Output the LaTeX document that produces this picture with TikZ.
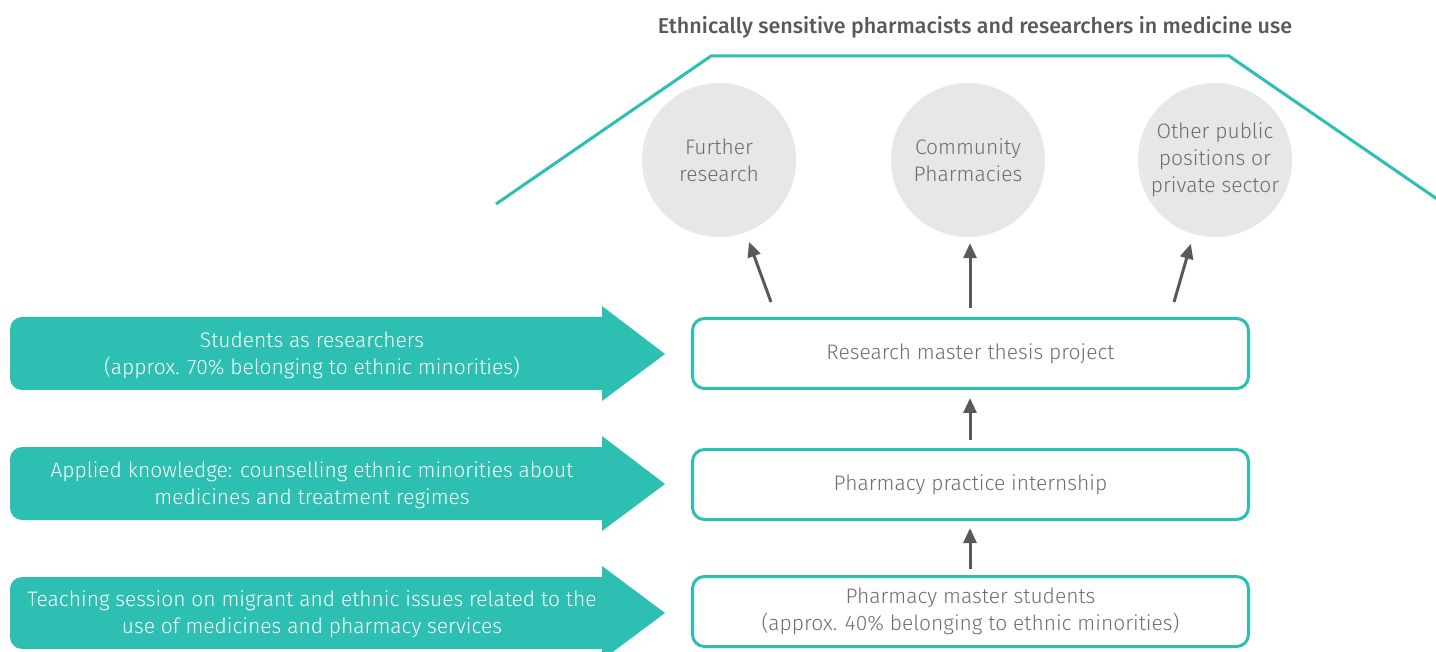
\documentclass[tikz,border=0pt]{standalone}
\usepackage{fontspec}
\setmainfont{Fira Sans Light}[BoldFont={Fira Sans Medium}]
\usetikzlibrary{arrows.meta}
\definecolor{tealc}{HTML}{2CBFB2}
\definecolor{circg}{HTML}{E6E7E8}
\definecolor{darkg}{HTML}{58595B}
\definecolor{textg}{HTML}{6D6E71}
\begin{document}
\begin{tikzpicture}[x=1pt,y=-1pt,
  box/.style={draw=tealc, line width=3pt, rounded corners=12pt, minimum width=556pt, minimum height=70pt, text=textg, font=\fontsize{21}{27}\selectfont, align=center},
  circ/.style={circle, fill=circg, minimum size=154pt, text=textg, font=\fontsize{21}{27}\selectfont, align=center, inner sep=0pt},
  arr/.style={draw=darkg, line width=3pt, -{Triangle[length=15pt,width=13pt]}},
  wtext/.style={text=white, font=\fontsize{21}{27}\selectfont, align=center},
  bigarrow/.style={fill=tealc},
  titletext/.style={text=darkg, font=\fontsize{21.5}{24}\selectfont\bfseries}
]
\useasboundingbox (0,0) rectangle (1436,652);
% title and trapezoid
\node[titletext] (title) at (975,27) {Ethnically sensitive pharmacists and researchers in medicine use};
\draw[tealc, line width=3pt] (496,204) -- (711,56) -- (1229,56) -- (1440,201);
% circles
\node[circ] (c1) at (719,160) {Further\\research};
\node[circ] (c2) at (968,160) {Community\\Pharmacies};
\node[circ] (c3) at (1215,160) {Other public\\positions or\\private sector};
% boxes
\node[box] (b1) at (970.5,353.5) {Research master thesis project};
\node[box] (b2) at (970.5,484.5) {Pharmacy practice internship};
\node[box] (b3) at (970.5,611.5) {Pharmacy master students\\(approx. 40\% belonging to ethnic minorities)};
% arrows
\coordinate (s1) at (771,302);
\coordinate (s2) at (970,308);
\coordinate (s3) at (1174,302);
\draw[arr, shorten >=10pt] (s1) -- (c1);
\draw[arr, shorten >=6pt] (s2) -- (s2 |- c2.south);
\draw[arr, shorten >=10pt] (s3) -- (c3);
\draw[arr, shorten <=8pt, shorten >=8pt] (b2.north -| s2) -- (b1.south -| s2);
\draw[arr, shorten <=6pt, shorten >=7pt] (b3.north -| s2) -- (b2.south -| s2);
% left arrows
\foreach \yt/\yb/\ym in {317/390/354, 447/520/484, 577/649/613}{
  \fill[bigarrow, rounded corners=12pt] (10,\yt) rectangle (615,\yb);
  \fill[bigarrow] (602,\yt-11) -- (665,\ym) -- (602,\yb+11) -- cycle;
}
\node[wtext] (l1) at (312,355) {Students as researchers\\(approx. 70\% belonging to ethnic minorities)};
\node[wtext] (l2) at (312,485) {Applied knowledge: counselling ethnic minorities about\\medicines and treatment regimes};
\begin{scope}
\clip (10,560) rectangle (602,652);
\node[wtext] (l3) at (312,614) {Teaching session on migrant and ethnic issues related to the\\use of medicines and pharmacy services};
\end{scope}
\end{tikzpicture}
\end{document}
